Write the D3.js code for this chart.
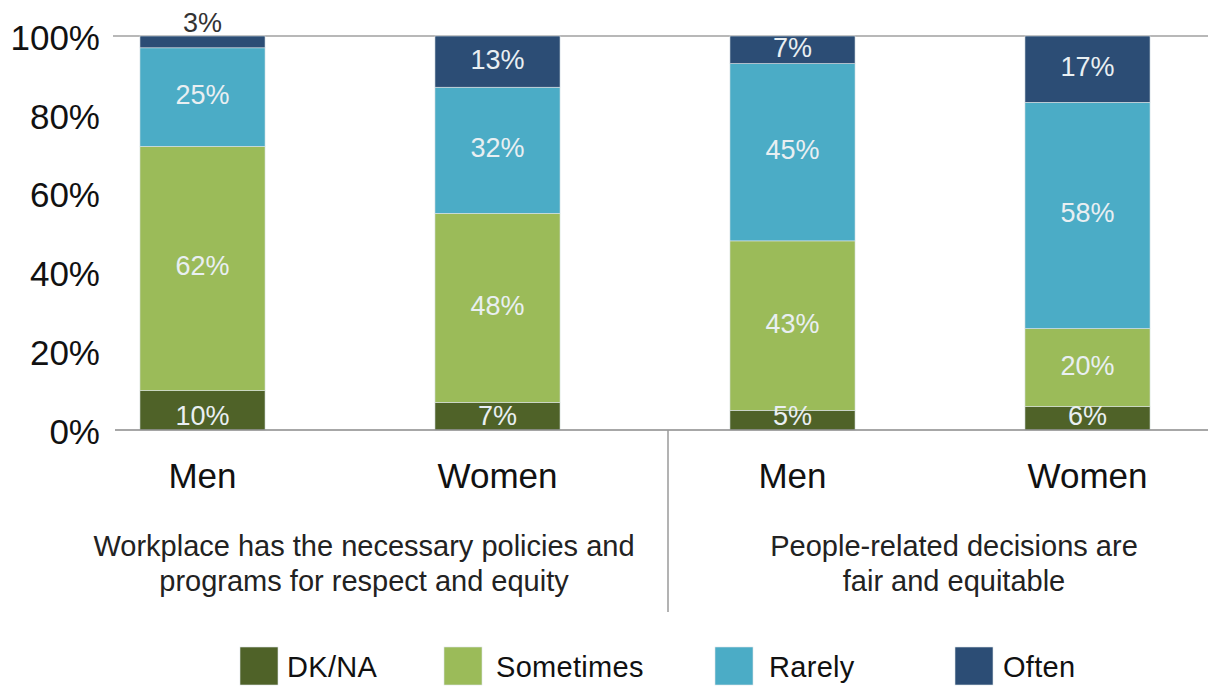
<!DOCTYPE html>
<html>
<head>
<meta charset="utf-8">
<script src="https://cdn.jsdelivr.net/npm/d3@7"></script>
<style>
  body { margin: 0; background: #fff; }
  svg { font-family: "Liberation Sans", Arial, sans-serif; }
</style>
</head>
<body>
<div id="chart"></div>
<script>
// data
var categories = ["Men", "Women", "Men", "Women"];
var groupCaptions = [
  ["Workplace has the necessary policies and", "programs for respect and equity"],
  ["People-related decisions are", "fair and equitable"]
];
var seriesNames = ["DK/NA", "Sometimes", "Rarely", "Often"];
var dkna = [10, 7, 5, 6];
var sometimes = [62, 48, 43, 20];
var rarely = [25, 32, 45, 58];
var often = [3, 13, 7, 17];
var yTicks = [0, 0.2, 0.4, 0.6, 0.8, 1];

var colors = ["#4f6228", "#9bbb59", "#4bacc6", "#2c4d75"];

var width = 1208, height = 686;

var rows = categories.map(function(c, i) {
  return { key: i, cat: c, "DK/NA": dkna[i], "Sometimes": sometimes[i], "Rarely": rarely[i], "Often": often[i] };
});

var stack = d3.stack().keys(seriesNames).offset(d3.stackOffsetExpand);
var series = stack(rows);

var svg = d3.select("#chart").append("svg")
  .attr("width", width)
  .attr("height", height);

var x = d3.scaleBand()
  .domain(d3.range(categories.length))
  .range([55, 1235])
  .paddingInner(0.576)
  .paddingOuter(0.288);

var y = d3.scaleLinear()
  .domain([0, 1])
  .range([430, 36]);

// top line
svg.append("line")
  .attr("x1", 113).attr("x2", width)
  .attr("y1", y(1)).attr("y2", y(1))
  .attr("stroke", "#a0a0a0").attr("stroke-width", 1.5);

// bars
var layer = svg.selectAll(".layer")
  .data(series)
  .enter().append("g")
  .attr("class", "layer")
  .attr("fill", function(d, i) { return colors[i]; });

layer.selectAll("rect")
  .data(function(d) { return d; })
  .enter().append("rect")
  .attr("x", function(d) { return x(d.data.key); })
  .attr("width", x.bandwidth())
  .attr("y", function(d) { return y(d[1]); })
  .attr("height", function(d) { return y(d[0]) - y(d[1]); })
  .attr("stroke", "#dde3e6")
  .attr("stroke-width", 0.6);

// value labels
series.forEach(function(s, si) {
  s.forEach(function(d) {
    var v = d.data[s.key];
    var mid = (y(d[0]) + y(d[1])) / 2;
    var small = (y(d[0]) - y(d[1])) < 15;
    var ty = si === 0 ? y(0) - 5 : mid + 7;
    if (small) ty = y(d[1]) - 4;
    svg.append("text")
      .attr("x", x(d.data.key) + x.bandwidth() / 2)
      .attr("y", ty)
      .attr("text-anchor", "middle")
      .attr("font-size", 27)
      .attr("fill", small ? "#333" : "#e9eff2")
      .text(v + "%");
  });
});

svg.append("line")
  .attr("x1", 115).attr("x2", width)
  .attr("y1", y(0)).attr("y2", y(0))
  .attr("stroke", "#8a8a8a").attr("stroke-width", 1.5);

// y axis
var yAxis = d3.axisLeft(y)
  .tickValues(yTicks)
  .tickSize(0)
  .tickPadding(0)
  .tickFormat(d3.format(".0%"));

var yg = svg.append("g")
  .attr("transform", "translate(100,0)")
  .call(yAxis);
yg.select(".domain").remove();
yg.selectAll("text")
  .attr("font-size", 35)
  .attr("font-family", "Liberation Sans, Arial, sans-serif")
  .attr("fill", "#111")
  .attr("dy", "0.38em");

// category labels
var xAxis = d3.axisBottom(x)
  .tickSize(0)
  .tickPadding(0)
  .tickFormat(function(i) { return categories[i]; });

var xg = svg.append("g")
  .attr("transform", "translate(0,463)")
  .call(xAxis);
xg.select(".domain").remove();
xg.selectAll("text")
  .attr("font-size", 35)
  .attr("font-family", "Liberation Sans, Arial, sans-serif")
  .attr("fill", "#111");

// divider
svg.append("line")
  .attr("x1", 668).attr("x2", 668)
  .attr("y1", y(0)).attr("y2", 612)
  .attr("stroke", "#9a9a9a").attr("stroke-width", 1.5);

// group captions
groupCaptions.forEach(function(lines, g) {
  var cx = (x(g * 2) + x(g * 2 + 1) + x.bandwidth()) / 2 + 14;
  lines.forEach(function(t, j) {
    svg.append("text")
      .attr("x", cx)
      .attr("y", 556 + j * 35)
      .attr("text-anchor", "middle")
      .attr("font-size", 29)
      .attr("fill", "#222")
      .text(t);
  });
});

// legend
var legendX = [240, 444, 715, 955];
var lg = svg.selectAll(".leg")
  .data(seriesNames)
  .enter().append("g")
  .attr("class", "leg")
  .attr("transform", function(d, i) { return "translate(" + legendX[i] + ",647)"; });

lg.append("rect")
  .attr("width", 38).attr("height", 38)
  .attr("fill", function(d, i) { return colors[i]; })
  .attr("stroke", "#dde3e6").attr("stroke-width", 0.6);

lg.append("text")
  .attr("x", function(d, i) { return [47, 52, 54, 48][i]; })
  .attr("y", 30)
  .attr("font-size", 29)
  .attr("letter-spacing", 0.3)
  .attr("fill", "#111")
  .text(function(d) { return d; });
</script>
</body>
</html>
